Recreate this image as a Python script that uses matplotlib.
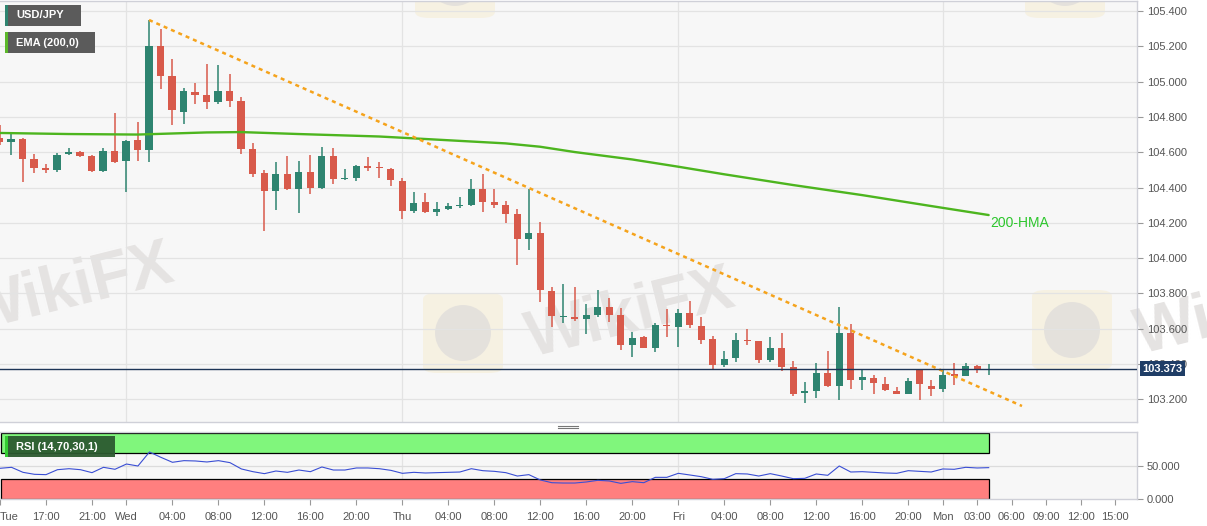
import matplotlib
matplotlib.use("Agg")
import matplotlib.pyplot as plt
from matplotlib.patches import Rectangle, FancyBboxPatch, Ellipse
from matplotlib.lines import Line2D

plt.rcParams['font.family'] = ['Liberation Sans', 'DejaVu Sans']

# hourly candles, Tue 13:00 .. Mon 04:00
opens = [104.680, 104.658, 104.675, 104.561, 104.510, 104.499, 104.590, 104.601, 104.578, 104.493,
         104.607, 104.550, 104.669, 104.612, 105.202, 105.032, 104.828, 104.941, 104.924, 104.884,
         104.947, 104.890, 104.618, 104.482, 104.380, 104.476, 104.391, 104.488, 104.397, 104.578,
         104.448, 104.454, 104.519, 104.516, 104.505, 104.437, 104.267, 104.318, 104.261, 104.278,
         104.295, 104.301, 104.391, 104.318, 104.301, 104.250, 104.108, 104.142, 103.814, 103.666,
         103.666, 103.655, 103.678, 103.723, 103.678, 103.508, 103.553, 103.491, 103.621, 103.610,
         103.689, 103.615, 103.542, 103.394, 103.434, 103.536, 103.530, 103.423, 103.491, 103.383,
         103.236, 103.247, 103.349, 103.275, 103.576, 103.309, 103.321, 103.287, 103.247, 103.230,
         103.366, 103.275, 103.258, 103.343, 103.332, 103.389, 103.366]
closes = [104.658, 104.675, 104.561, 104.510, 104.499, 104.584, 104.601, 104.578, 104.493, 104.607,
          104.544, 104.663, 104.612, 105.202, 105.032, 104.839, 104.947, 104.924, 104.884, 104.947,
          104.890, 104.618, 104.476, 104.380, 104.476, 104.391, 104.488, 104.397, 104.578, 104.448,
          104.454, 104.522, 104.513, 104.510, 104.442, 104.267, 104.312, 104.261, 104.278, 104.295,
          104.301, 104.391, 104.318, 104.301, 104.250, 104.108, 104.142, 103.819, 103.672, 103.672,
          103.655, 103.678, 103.723, 103.678, 103.508, 103.547, 103.491, 103.621, 103.615, 103.689,
          103.621, 103.536, 103.394, 103.428, 103.536, 103.530, 103.423, 103.491, 103.383, 103.230,
          103.247, 103.349, 103.275, 103.576, 103.309, 103.326, 103.292, 103.253, 103.230, 103.304,
          103.287, 103.258, 103.338, 103.332, 103.389, 103.372, 103.373]
highs = [104.754, 104.709, 104.680, 104.590, 104.533, 104.595, 104.624, 104.607, 104.584, 104.624,
         104.822, 104.669, 104.771, 105.349, 105.298, 105.128, 104.964, 104.992, 105.100, 105.094,
         105.043, 104.913, 104.652, 104.499, 104.544, 104.578, 104.550, 104.584, 104.629, 104.624,
         104.505, 104.527, 104.573, 104.544, 104.510, 104.454, 104.374, 104.369, 104.318, 104.312,
         104.346, 104.448, 104.476, 104.391, 104.323, 104.278, 104.391, 104.204, 103.836, 103.853,
         103.836, 103.740, 103.819, 103.774, 103.717, 103.581, 103.559, 103.632, 103.712, 103.712,
         103.757, 103.666, 103.559, 103.474, 103.576, 103.598, 103.533, 103.553, 103.576, 103.417,
         103.298, 103.406, 103.474, 103.723, 103.627, 103.366, 103.338, 103.326, 103.270, 103.321,
         103.372, 103.309, 103.372, 103.406, 103.406, 103.394, 103.400]
lows = [104.641, 104.584, 104.431, 104.482, 104.482, 104.488, 104.584, 104.573, 104.488, 104.488,
        104.539, 104.374, 104.550, 104.544, 104.958, 104.754, 104.760, 104.873, 104.845, 104.873,
        104.856, 104.590, 104.459, 104.153, 104.272, 104.385, 104.255, 104.363, 104.391, 104.420,
        104.442, 104.437, 104.493, 104.454, 104.408, 104.221, 104.255, 104.258, 104.238, 104.272,
        104.284, 104.295, 104.261, 104.284, 104.199, 103.961, 104.046, 103.751, 103.610, 103.632,
        103.644, 103.570, 103.666, 103.638, 103.479, 103.440, 103.491, 103.468, 103.553, 103.496,
        103.604, 103.513, 103.366, 103.383, 103.411, 103.508, 103.406, 103.411, 103.360, 103.219,
        103.179, 103.207, 103.270, 103.196, 103.258, 103.253, 103.230, 103.247, 103.228, 103.228,
        103.196, 103.219, 103.241, 103.281, 103.330, 103.349, 103.338]

rsi = [46.5, 48, 40.4, 37.4, 36.9, 44.4, 45.9, 44.4, 39.9, 48,
       45, 53, 50, 71.2, 63.1, 55.6, 58.1, 57.6, 56.1, 58.1,
       55.1, 45.5, 41.4, 38.4, 42.4, 40.4, 43.9, 41.4, 48.5, 43.9,
       43.9, 47, 47, 45.9, 43.4, 38.9, 40.4, 39.4, 39.9, 40.4,
       40.9, 45.9, 42.9, 41.9, 39.9, 34.8, 36.9, 28.8, 24.7, 24.2,
       24.2, 25.8, 28.3, 27.3, 23.7, 26.3, 24.7, 32.8, 32.8, 38.9,
       36.4, 33.8, 29.8, 30.8, 38.4, 37.9, 34.8, 38.4, 34.8, 30.8,
       31.3, 37.9, 35.9, 50, 40.9, 41.4, 40.4, 39.4, 38.9, 42.9,
       41.9, 40.9, 45.5, 45, 48, 47, 47.5]

# 200 moving average, read at a few candles
ema_idx = [0, 6, 12, 18, 21, 26, 33, 35, 44, 47, 50, 55, 59, 63, 69, 75, 81, 86]
ema_val = [104.709, 104.703, 104.700, 104.712, 104.714, 104.703, 104.689, 104.682, 104.650,
           104.631, 104.601, 104.559, 104.518, 104.475, 104.414, 104.357, 104.295, 104.244]

# falling trend line
trend_x = [13, 88.9]
trend_y = [105.349, 103.162]

last_price = 103.373

tick_idx = [0, 4, 8, 11, 15, 19, 23, 27, 31, 35, 39, 43, 47, 51, 55, 59, 63, 67, 71, 75, 79,
            82, 85, 88, 91, 94, 97]
tick_lbl = ['Tue', '17:00', '21:00', 'Wed', '04:00', '08:00', '12:00', '16:00', '20:00',
            'Thu', '04:00', '08:00', '12:00', '16:00', '20:00', 'Fri', '04:00', '08:00',
            '12:00', '16:00', '20:00', 'Mon', '03:00', '06:00', '09:00', '12:00', '15:00']
day_idx = [11, 35, 59, 82]
price_ticks = [103.2, 103.4, 103.6, 103.8, 104.0, 104.2, 104.4, 104.6, 104.8, 105.0, 105.2, 105.4]

W, H = 1207, 526
UP = '#2e8470'
DOWN = '#d85a4b'
BG = '#f7f7f7'
GRID = '#e3e3e3'


def fx(x):
    return x / W


def fy(y):
    return 1 - y / H


fig = plt.figure(figsize=(W / 100, H / 100), dpi=100)
fig.patch.set_facecolor('white')

ax = fig.add_axes([0, fy(422), fx(1137), 421 / H])
ax2 = fig.add_axes([0, fy(499), fx(1137), 67 / H])

xmin, xmax = 0.04, 98.9
for a in (ax, ax2):
    a.set_facecolor(BG)
    a.set_xlim(xmin, xmax)
    for s in a.spines.values():
        s.set_color('#cfd0d8')
        s.set_linewidth(1)
    a.spines['left'].set_visible(False)
    for d in day_idx:
        a.axvline(d, color=GRID, lw=0.9, zorder=0.6)


# watermarks
def watermark(cx, cy, txt=True):
    box = FancyBboxPatch((fx(cx - 40), fy(cy + 40)), fx(80), 80 / H,
                         boxstyle='round,pad=0,rounding_size=0.012',
                         transform=fig.transFigure, fc='#f6efdc', ec='none', alpha=0.75, zorder=0.5)
    ax.add_artist(box)
    ell = Ellipse((fx(cx), fy(cy)), 56 / W, 56 / H, transform=fig.transFigure,
                  fc='#e3e0dc', ec='none', alpha=0.9, zorder=0.55)
    ax.add_artist(ell)
    if txt:
        ax.text(fx(cx + 58), fy(cy - 18), 'WikiFX', transform=fig.transFigure, fontsize=46,
                fontweight='bold', color='#e5e3e2', rotation=14, ha='left', va='center', zorder=0.55)

watermark(463, 333)
watermark(1072, 330)
watermark(455, -22, txt=False)
watermark(1065, -22, txt=False)
ax.text(fx(-40), fy(290), 'WikiFX', transform=fig.transFigure, fontsize=46, fontweight='bold',
        color='#e5e3e2', rotation=14, ha='left', va='center', zorder=0.55)

# main panel
ax.set_ylim(103.0714, 105.4567)
ax.yaxis.tick_right()
ax.set_yticks(price_ticks)
ax.set_yticklabels(['%.3f' % v for v in price_ticks])
ax.tick_params(axis='y', length=4, color='#999999', labelcolor='#555555', labelsize=8, pad=3)
ax.tick_params(axis='x', bottom=False, labelbottom=False)
for v in price_ticks:
    ax.axhline(v, color=GRID, lw=0.9, zorder=0.6)

idx = list(range(len(opens)))
for i in idx:
    o, c, h, l = opens[i], closes[i], highs[i], lows[i]
    col = UP if c >= o else DOWN
    ax.vlines(i, l, h, color=col, lw=1.1, zorder=2)
    bot = min(o, c)
    hgt = max(abs(c - o), 0.007)
    ax.bar(i, hgt, bottom=bot, width=0.62, color=col, edgecolor='none', zorder=2.1)

ax.plot(ema_idx, ema_val, color='#4db51f', lw=1.7, zorder=3, solid_capstyle='round')
ax.text(86.1, 104.199, '200-HMA', color='#2cc62c', fontsize=10, ha='left', va='center', zorder=4)
ax.plot(trend_x, trend_y, color='#f5a31c', lw=1.8, ls=(0, (1.6, 1.6)), zorder=3.5)
ax.axhline(last_price, color='#1d3557', lw=1, zorder=3.6)
ax.text(1 + 5 / 1137, last_price, '%.3f' % last_price, transform=ax.get_yaxis_transform(),
        ha='left', va='center', color='white', fontsize=8, fontweight='bold', zorder=6,
        clip_on=False, bbox=dict(boxstyle='square,pad=0.22', fc='#1f3d66', ec='none'))

# RSI panel
ax2.set_ylim(0, 101.5)
ax2.add_patch(Rectangle((0.12, 70), 86 - 0.12, 30, fc='#80f67c', ec='black', lw=0.9, zorder=1))
ax2.add_patch(Rectangle((0.12, 0.3), 86 - 0.12, 29.7, fc='#ff7f7f', ec='black', lw=0.9, zorder=1))
ax2.axhline(50, color='#dcdcdc', lw=0.9, zorder=0.7)
ax2.plot(idx, rsi, color='#3a4ed4', lw=0.8, zorder=3)
ax2.yaxis.tick_right()
ax2.set_yticks([0, 50])
ax2.set_yticklabels(['0.000', '50.000'])
ax2.tick_params(axis='y', length=4, color='#999999', labelcolor='#555555', labelsize=8, pad=3)
ax2.set_xticks(tick_idx)
ax2.set_xticklabels(tick_lbl)
ax2.tick_params(axis='x', length=4, color='#999999', labelcolor='#555555', labelsize=8, pad=5)
ax2.get_xticklabels()[0].set_ha('left')


# label boxes
def label_box(x0, y0, x1, y1, fc, stripe, text, alpha=1.0):
    fig.add_artist(Rectangle((fx(x0), fy(y1)), fx(x1 - x0), (y1 - y0) / H,
                             transform=fig.transFigure, fc=fc, ec='none', alpha=alpha, zorder=10))
    fig.add_artist(Rectangle((fx(x0), fy(y1)), fx(2.5), (y1 - y0) / H,
                             transform=fig.transFigure, fc=stripe, ec='none', zorder=11))
    fig.text(fx(x0 + 11), fy((y0 + y1) / 2), text, color='white', fontsize=8, fontweight='bold',
             ha='left', va='center', zorder=12)

label_box(5, 5, 81, 26, '#5b5b5b', '#2e8470', 'USD/JPY')
label_box(5, 32, 95, 53, '#5b5b5b', '#5cb82a', 'EMA (200,0)')
label_box(5, 436, 115, 457, '#2c5a30', '#33cc33', 'RSI (14,70,30,1)', alpha=0.95)

# panel resize handle
for yy in (425.5, 428):
    fig.add_artist(Line2D([fx(558), fx(578)], [fy(yy), fy(yy)], transform=fig.transFigure,
                          color='#777777', lw=0.8))

fig.savefig('out.png', dpi=100, facecolor=fig.get_facecolor())
